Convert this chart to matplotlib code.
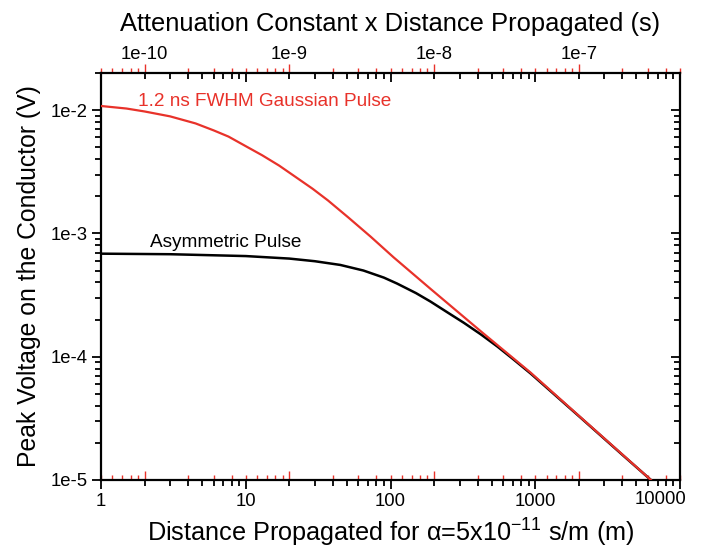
import numpy as np
import matplotlib
matplotlib.use('Agg')
import matplotlib.pyplot as plt
from matplotlib.ticker import LogLocator, FixedLocator, FuncFormatter, NullFormatter

plt.rcParams['font.family'] = ['Liberation Sans', 'DejaVu Sans']
plt.rcParams['mathtext.fontset'] = 'custom'
plt.rcParams['mathtext.rm'] = 'Liberation Sans'
plt.rcParams['mathtext.it'] = 'Liberation Sans'
plt.rcParams['mathtext.default'] = 'regular'

RED = '#e8322a'

# values
gauss_x = [1, 1.5, 2, 3, 4.5, 6, 7.6, 10, 13, 17, 22, 29, 37, 51, 73, 105, 189,
           420, 930, 2000, 4000, 6300]
gauss_y = [1.08e-2, 1.03e-2, 9.75e-3, 8.9e-3, 7.8e-3, 6.85e-3, 6.1e-3, 5.1e-3,
           4.3e-3, 3.55e-3, 2.88e-3, 2.3e-3, 1.85e-3, 1.35e-3, 9.4e-4, 6.4e-4,
           3.55e-4, 1.61e-4, 7.42e-5, 3.32e-5, 1.61e-5, 1.0e-5]

asym_x = [1, 3, 10, 20, 30, 45, 65, 90, 111, 150, 189, 250, 322, 420, 547, 700,
          930, 2000, 4000, 6300]
asym_y = [6.85e-4, 6.78e-4, 6.55e-4, 6.25e-4, 5.95e-4, 5.55e-4, 5.0e-4, 4.38e-4,
          3.92e-4, 3.28e-4, 2.8e-4, 2.27e-4, 1.88e-4, 1.52e-4, 1.21e-4, 9.6e-5,
          7.3e-5, 3.3e-5, 1.6e-5, 1.0e-5]

bottom_ticks = [1, 10, 100, 1000, 10000]
left_ticks = [1e-5, 1e-4, 1e-3, 1e-2]
top_ticks = [1e-10, 1e-9, 1e-8, 1e-7]

alpha = 5e-11


def fwd(x):
    return x * alpha


def inv(x):
    return x / alpha


def exp_label(v, pos):
    return '1e%d' % int(round(np.log10(v)))


def dist_label(v, pos):
    # the last label is drawn separately, pulled in from the edge
    if v >= bottom_ticks[-1]:
        return ''
    return '%g' % v


def minor_log():
    return LogLocator(base=10, subs=np.arange(2, 10), numticks=20)


def black_ticks(axis, direction):
    axis.tick_params(which='both', direction=direction, width=1.3)
    axis.tick_params(which='major', length=6.5)
    axis.tick_params(which='minor', length=4.3)


def red_ticks(axis, direction):
    axis.tick_params(which='both', direction=direction, color=RED, width=1.0)
    axis.tick_params(which='major', length=6.8)
    axis.tick_params(which='minor', length=3.6)


fig, ax = plt.subplots(figsize=(7.03, 5.51), dpi=100)
fig.subplots_adjust(left=101 / 703, right=680 / 703, bottom=1 - 480 / 551, top=1 - 73 / 551)

ax.loglog(asym_x, asym_y, color='black', lw=1.8, zorder=3)
ax.loglog(gauss_x, gauss_y, color=RED, lw=1.6, zorder=4)
ax.set_xlim(1, 10000)
ax.set_ylim(1e-5, 2e-2)

for s in ax.spines.values():
    s.set_linewidth(1.6)

ax.xaxis.set_major_locator(FixedLocator(bottom_ticks))
ax.xaxis.set_minor_locator(minor_log())
ax.yaxis.set_major_locator(FixedLocator(left_ticks))
ax.yaxis.set_minor_locator(minor_log())
ax.xaxis.set_major_formatter(FuncFormatter(dist_label))
ax.xaxis.set_minor_formatter(NullFormatter())
ax.yaxis.set_major_formatter(FuncFormatter(exp_label))
ax.yaxis.set_minor_formatter(NullFormatter())
black_ticks(ax, 'out')
ax.tick_params(top=False, right=False, labelsize=13.3)
ax.tick_params(axis='x', pad=2.5)
ax.tick_params(axis='y', pad=3)

# black inward ticks on top and right
top = ax.secondary_xaxis('top')
top.xaxis.set_major_locator(FixedLocator(bottom_ticks))
top.xaxis.set_minor_locator(minor_log())
top.xaxis.set_major_formatter(NullFormatter())
top.xaxis.set_minor_formatter(NullFormatter())
black_ticks(top, 'in')
top.tick_params(labeltop=False)
top.spines['top'].set_visible(False)

right = ax.secondary_yaxis('right')
right.yaxis.set_major_locator(FixedLocator(left_ticks))
right.yaxis.set_minor_locator(minor_log())
right.yaxis.set_major_formatter(NullFormatter())
right.yaxis.set_minor_formatter(NullFormatter())
black_ticks(right, 'in')
right.tick_params(labelright=False)
right.spines['right'].set_visible(False)

# red attenuation scale (alpha * distance)
red_top = ax.secondary_xaxis('top', functions=(fwd, inv))
red_top.xaxis.set_major_locator(FixedLocator(top_ticks))
red_top.xaxis.set_minor_locator(minor_log())
red_top.xaxis.set_major_formatter(FuncFormatter(exp_label))
red_top.xaxis.set_minor_formatter(NullFormatter())
red_ticks(red_top, 'out')
red_top.tick_params(labelsize=13.3, pad=0.5)
red_top.spines['top'].set_visible(False)
red_top.set_xlabel('Attenuation Constant x Distance Propagated (s)', fontsize=18.4, labelpad=11)

red_bot = ax.secondary_xaxis('bottom', functions=(fwd, inv))
red_bot.xaxis.set_major_locator(FixedLocator(top_ticks))
red_bot.xaxis.set_minor_locator(minor_log())
red_bot.xaxis.set_major_formatter(NullFormatter())
red_bot.xaxis.set_minor_formatter(NullFormatter())
red_ticks(red_bot, 'in')
red_bot.tick_params(labelbottom=False)
red_bot.spines['bottom'].set_visible(False)

ax.set_xlabel(r'Distance Propagated for α=5x10$^{-11}$ s/m (m)', fontsize=18.2, labelpad=5)
ax.set_ylabel('Peak Voltage on the Conductor (V)', fontsize=17.8, labelpad=7)

fig.text(661 / 703, 1 - 500 / 551, '%g' % bottom_ticks[-1], fontsize=13.3,
         ha='center', va='center')

fig.text(138 / 703, 1 - 101 / 551, '1.2 ns FWHM Gaussian Pulse', color=RED,
         fontsize=13.7, va='center', ha='left')
fig.text(150 / 703, 1 - 242 / 551, 'Asymmetric Pulse', color='black',
         fontsize=13.7, va='center', ha='left')

fig.savefig('out.png', dpi=100)
